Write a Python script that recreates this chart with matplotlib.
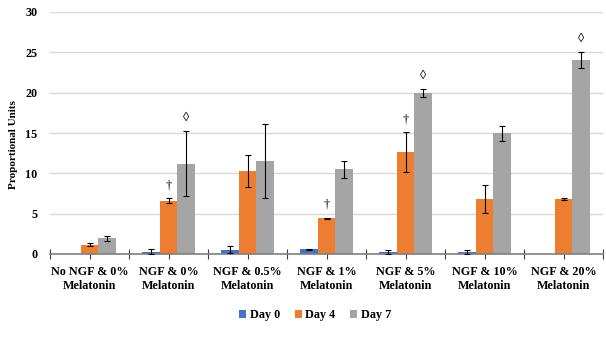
import matplotlib
matplotlib.use("Agg")
import matplotlib.pyplot as plt
import numpy as np

categories = ["No NGF & 0%\nMelatonin", "NGF & 0%\nMelatonin", "NGF & 0.5%\nMelatonin",
              "NGF & 1%\nMelatonin", "NGF & 5%\nMelatonin", "NGF & 10%\nMelatonin",
              "NGF & 20%\nMelatonin"]
series_names = ["Day 0", "Day 4", "Day 7"]
day0 = [0.0, 0.3, 0.55, 0.58, 0.3, 0.25, 0.0]
day0_err = [0.0, 0.35, 0.4, 0.05, 0.25, 0.25, 0.0]
day4 = [1.13, 6.6, 10.3, 4.42, 12.65, 6.8, 6.83]
day4_err = [0.2, 0.33, 2.0, 0.1, 2.45, 1.7, 0.15]
day7 = [1.95, 11.2, 11.5, 10.5, 19.95, 14.95, 24.0]
day7_err = [0.3, 4.05, 4.6, 1.05, 0.5, 0.9, 1.0]
# annotations: (category index, series index, symbol)
marks = [(1, 1, "\u2020"), (1, 2, "\u25CA"), (3, 1, "\u2020"),
         (4, 1, "\u2020"), (4, 2, "\u25CA"), (6, 2, "\u25CA")]
yticks = [0, 5, 10, 15, 20, 25, 30]

colors = ["#4472C4", "#ED7D31", "#A5A5A5"]
serif = ["Liberation Serif", "DejaVu Serif"]
fs = 8.7

fig = plt.figure(figsize=(6.06, 3.41), dpi=100)
ax = fig.add_axes([50/606, 1-254/341, 553/606, 242/341])

x = np.arange(len(categories))
w = 1/4.5
vals = [day0, day4, day7]
errs = [day0_err, day4_err, day7_err]
for i, (v, e) in enumerate(zip(vals, errs)):
    pos = x + (i-1)*w
    ax.bar(pos, v, width=w, color=colors[i], label=series_names[i], zorder=2)
    for p, vv, ee in zip(pos, v, e):
        if vv > 0:
            ax.errorbar(p, vv, yerr=ee, fmt="none", ecolor="black", elinewidth=0.8,
                        capsize=2.5, capthick=0.8, zorder=3)

for ci, si, sym in marks:
    top = vals[si][ci] + errs[si][ci]
    ax.annotate(sym, xy=(x[ci] + (si-1)*w, top), xytext=(0, 5), textcoords="offset points",
                ha="center", va="bottom", fontsize=9, family=serif)

ax.set_xlim(-0.5, len(categories)-0.5)
ax.set_ylim(0, 30)
ax.set_yticks(yticks)
ax.set_yticklabels([str(t) for t in yticks], family=serif, fontweight="bold", fontsize=fs)
ax.yaxis.grid(True, color="#D9D9D9", linewidth=1, zorder=0)
ax.set_axisbelow(True)
ax.tick_params(axis="y", length=0, pad=9)
for s in ["top", "right", "left"]:
    ax.spines[s].set_visible(False)
ax.spines["bottom"].set_color("#7F7F7F")
ax.spines["bottom"].set_linewidth(1.2)

bounds = np.arange(len(categories)+1) - 0.5
ax.set_xticks(list(bounds) + list(x))
ax.set_xticklabels([""]*len(bounds) + categories, family=serif, fontweight="bold", fontsize=fs,
                   linespacing=1.25)
ax.tick_params(axis="x", direction="inout", length=7, color="#404040", width=0.8, pad=5)
ax.set_ylabel("Proportional Units", family=serif, fontweight="bold", fontsize=8)
ax.yaxis.set_label_coords(-(50-18)/553, (254-145)/242)

leg = fig.legend(loc="center", bbox_to_anchor=(315/606, 1-315/341), ncol=3, frameon=False,
                 prop={"family": serif, "weight": "bold", "size": fs},
                 handlelength=0.6, handleheight=0.6, handletextpad=0.3, columnspacing=1.2)

fig.savefig("out.png", dpi=100)
